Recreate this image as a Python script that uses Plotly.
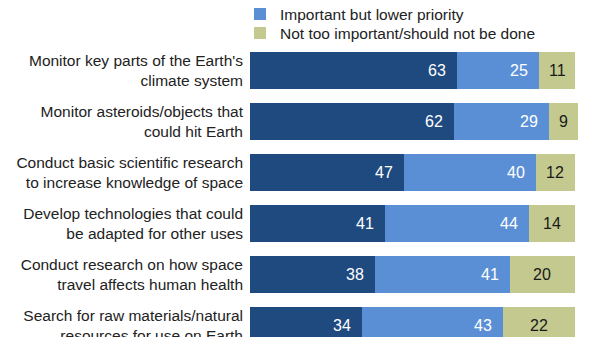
import plotly.graph_objects as go

categories = [
    "Monitor key parts of the Earth's<br>climate system",
    "Monitor asteroids/objects that<br>could hit Earth",
    "Conduct basic scientific research<br>to increase knowledge of space",
    "Develop technologies that could<br>be adapted for other uses",
    "Conduct research on how space<br>travel affects human health",
    "Search for raw materials/natural<br>resources for use on Earth",
]
top_priority = [63, 62, 47, 41, 38, 34]
lower_priority = [25, 29, 40, 44, 41, 43]
not_important = [11, 9, 12, 14, 20, 22]

series_names = ["Top priority", "Important but lower priority", "Not too important/should not be done"]
colors = ["#1f4a7f", "#5a8fd6", "#c3c98f"]
FONT = "Liberation Sans, Arial, sans-serif"

fig = go.Figure()
series = [top_priority, lower_priority, not_important]
legend_ids = [None, "legend", "legend2"]
for i, (name, vals, col) in enumerate(zip(series_names, series, colors)):
    kw = dict(showlegend=False) if i == 0 else dict(showlegend=True, legend=legend_ids[i])
    fig.add_trace(go.Bar(
        y=categories, x=vals, name=name, orientation="h",
        marker=dict(color=col, line=dict(width=0)),
        hoverinfo="skip", **kw,
    ))

annotations = []
for r, cat in enumerate(categories):
    cum = 0
    for i, vals in enumerate(series):
        v = vals[r]
        if i < 2:
            annotations.append(dict(
                x=cum + v, y=cat, xref="x", yref="y", text=str(v), showarrow=False,
                xanchor="right", xshift=-9, font=dict(family=FONT, size=16, color="white")))
        else:
            annotations.append(dict(
                x=cum + v / 2, y=cat, xref="x", yref="y", text=str(v), showarrow=False,
                xanchor="center", font=dict(family=FONT, size=16, color="#1a1a1a")))
        cum += v

legend_common = dict(xanchor="left", yanchor="top", orientation="v",
                     font=dict(family=FONT, size=15.5, color="#222222"),
                     bgcolor="rgba(0,0,0,0)", tracegroupgap=0)
PH = 292.0  # plot height in px (337 - top margin)

fig.update_layout(
    width=600, height=337,
    margin=dict(l=250, r=0, t=45, b=0, pad=0, autoexpand=False),
    barmode="stack", bargap=0.29,
    plot_bgcolor="white", paper_bgcolor="white",
    font=dict(family=FONT, size=15.5, color="#222222"),
    xaxis=dict(visible=False, range=[0, 106.55], fixedrange=True),
    yaxis=dict(range=[5.225, -0.5], showgrid=False, showline=False, zeroline=False,
               ticks="", tickfont=dict(family=FONT, size=15.5, color="#222222"),
               ticklabelstandoff=6, fixedrange=True, automargin=False),
    legend=dict(x=-10/350, y=(337 + 2.5) / PH, **legend_common),
    legend2=dict(x=-10/350, y=(337 - 16.5) / PH, **legend_common),
    annotations=annotations,
    showlegend=True,
)

fig.write_html("out.html", config={"displayModeBar": False})
